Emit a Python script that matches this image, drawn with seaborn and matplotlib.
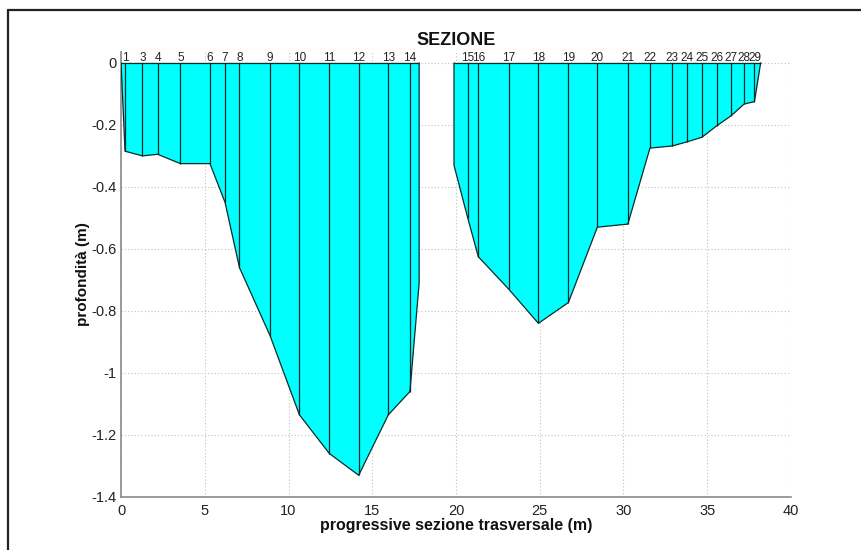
import numpy as np
import pandas as pd
import matplotlib
matplotlib.use("Agg")
import matplotlib.pyplot as plt
from matplotlib.lines import Line2D
import seaborn as sns

# ---- data ----
x_left = [0.0, 0.24, 1.27, 2.19, 3.54, 5.31, 6.21, 7.07, 8.90, 10.65, 12.44, 14.19, 15.96, 17.25, 17.80, 17.80]
d_left = [0.0, -0.285, -0.30, -0.295, -0.325, -0.325, -0.45, -0.66, -0.88, -1.135, -1.26, -1.33, -1.135, -1.06, -0.71, 0.0]

x_right = [19.88, 19.88, 20.70, 21.33, 23.15, 24.92, 26.71, 28.44, 30.26, 31.58, 32.92, 33.78, 34.68, 35.57, 36.42, 37.20, 37.82, 38.19]
d_right = [0.0, -0.33, -0.50, -0.625, -0.73, -0.84, -0.773, -0.53, -0.52, -0.275, -0.268, -0.255, -0.24, -0.203, -0.171, -0.133, -0.125, 0.0]

vert_x = [0.24, 1.27, 2.19, 3.54, 5.31, 6.21, 7.07, 8.90, 10.65, 12.44, 14.19, 15.96, 17.25,
          20.70, 21.33, 23.15, 24.92, 26.71, 28.44, 30.26, 31.58, 32.92, 33.78, 34.68, 35.57, 36.42, 37.20, 37.82]
vert_d = [-0.285, -0.30, -0.295, -0.325, -0.325, -0.45, -0.66, -0.88, -1.135, -1.26, -1.33, -1.135, -1.06,
          -0.50, -0.625, -0.73, -0.84, -0.773, -0.53, -0.52, -0.275, -0.268, -0.255, -0.24, -0.203, -0.171, -0.133, -0.125]
vert_lab = ["1", "3", "4", "5", "6", "7", "8", "9", "10", "11", "12", "13", "14",
            "15", "16", "17", "18", "19", "20", "21", "22", "23", "24", "25", "26", "27", "28", "29"]

x_ticks = [0, 5, 10, 15, 20, 25, 30, 35, 40]
y_ticks = [0, -0.2, -0.4, -0.6, -0.8, -1, -1.2, -1.4]
y_tick_labels = ["0", "-0.2", "-0.4", "-0.6", "-0.8", "-1", "-1.2", "-1.4"]

sns.set_theme(style="white")
plt.rcParams['font.family'] = ['Liberation Sans', 'DejaVu Sans']

fig = plt.figure(figsize=(8.62, 5.5), dpi=100)
ax = fig.add_axes([0.1404, 0.0964, 0.9176 - 0.1404, 0.9055 - 0.0964])

cyan = "#00FFFF"
edge = "#0a2a2a"

df_l = pd.DataFrame({"x": x_left, "d": d_left, "part": "sx"})
df_r = pd.DataFrame({"x": x_right, "d": d_right, "part": "dx"})

for df in (df_l, df_r):
    ax.fill(df["x"], df["d"], color=cyan, zorder=2, lw=0)
    sns.lineplot(data=df, x="x", y="d", sort=False, estimator=None, color=edge,
                 lw=0.9, ax=ax, zorder=3)

# top edges at 0
ax.hlines(0, x_left[0], x_left[-1], color=edge, lw=0.9, zorder=3)
ax.hlines(0, x_right[0], x_right[-1], color=edge, lw=0.9, zorder=3)

# verticals
ax.vlines(vert_x, vert_d, 0, color=edge, lw=0.9, zorder=3)
for xv, lab in zip(vert_x, vert_lab):
    ax.text(xv, -0.005, lab, ha="center", va="bottom", fontsize=8.5, color="#222222",
            clip_on=False, zorder=4)

ax.set_xlim(0, 40)
ax.set_ylim(-1.4, 0.035)
ax.set_xticks(x_ticks)
ax.set_xticklabels([str(t) for t in x_ticks])
ax.set_yticks(y_ticks)
ax.set_yticklabels(y_tick_labels)

ax.grid(True, color="#c0c0c0", linestyle=(0, (1, 2)), lw=0.8, zorder=0)
ax.set_axisbelow(True)

for s in ["top", "right"]:
    ax.spines[s].set_visible(False)
for s in ["left", "bottom"]:
    ax.spines[s].set_color("#8a8a8a")
    ax.spines[s].set_linewidth(1.2)

ax.tick_params(axis="both", direction="in", length=4, width=0.8, color="#8a8a8a",
               labelsize=10.5, labelcolor="#222222", pad=3)
ax.tick_params(axis="x", pad=5)

ax.set_xlabel("progressive sezione trasversale (m)", fontsize=11.5, fontweight="bold",
              color="#111111", labelpad=0)
ax.set_ylabel("profondità (m)", fontsize=11, fontweight="bold",
              color="#111111", labelpad=1)
ax.set_title("SEZIONE", fontsize=13, fontweight="bold", color="#111111", pad=5)

# outer frame (left and top)
fig.add_artist(Line2D([8 / 862, 8 / 862], [0, 1 - 10 / 550], transform=fig.transFigure,
                      color="#222222", lw=1.6))
fig.add_artist(Line2D([8 / 862, 1], [1 - 10 / 550, 1 - 10 / 550], transform=fig.transFigure,
                      color="#222222", lw=1.6))

fig.savefig("out.png", dpi=100, facecolor="white")
